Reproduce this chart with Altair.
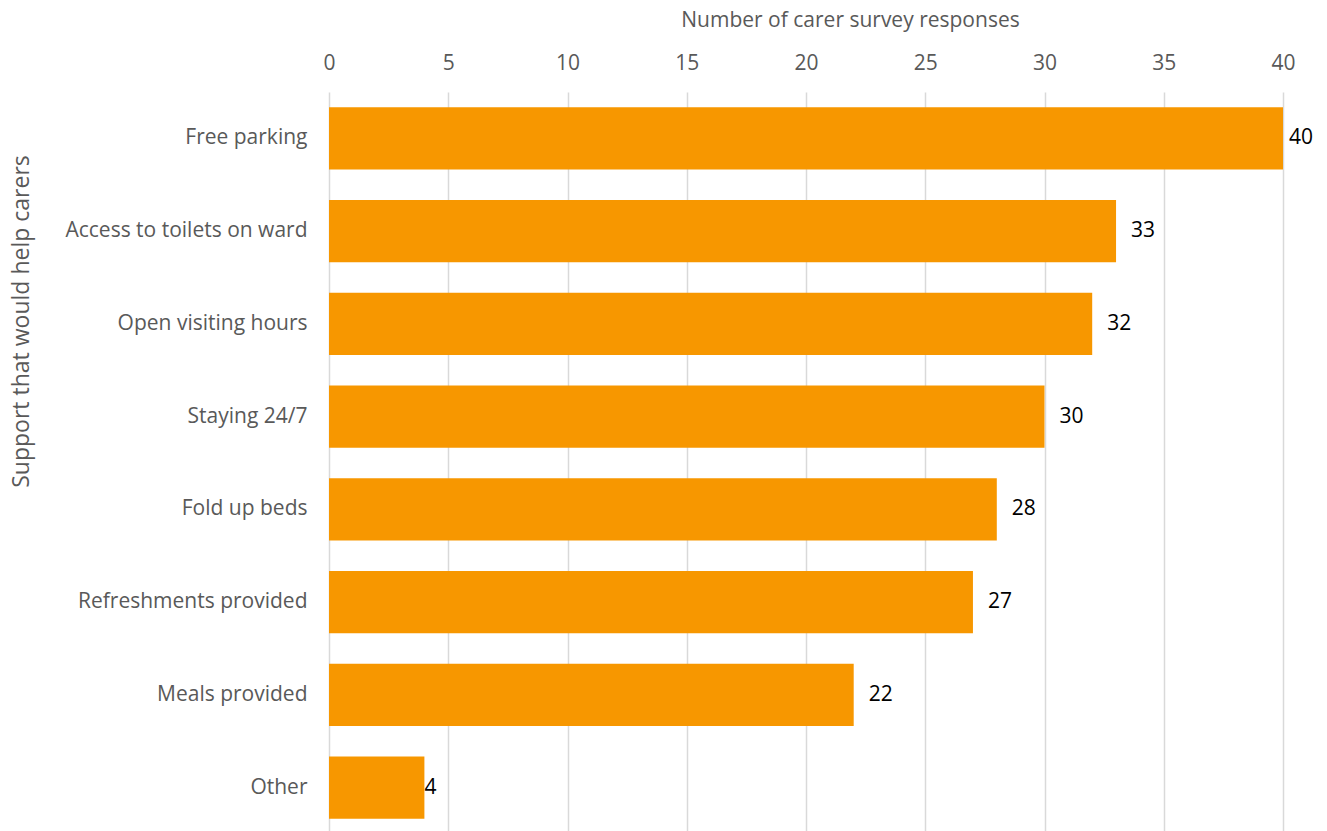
import altair as alt
import pandas as pd

categories = ["Free parking", "Access to toilets on ward", "Open visiting hours",
              "Staying 24/7", "Fold up beds ", "Refreshments provided",
              "Meals provided", "Other"]
values = [40, 33, 32, 30, 28, 27, 22, 4]

df = pd.DataFrame({"support": categories, "count": values})

FONT = "Open Sans"
GREY = "#595959"

y_enc = alt.Y("support:N", sort=categories,
              scale=alt.Scale(paddingInner=0.33, paddingOuter=0.165),
              axis=alt.Axis(title="Support that would help carers", domain=False, ticks=False,
                            labelPadding=22, labelFontSize=21, labelColor=GREY, labelFont=FONT,
                            titleFontSize=23, titleFont=FONT, titleColor=GREY, titleFontWeight="normal",
                            titleX=-308, titleY=229, titleAngle=-90, titleBaseline="middle",
                            titleAlign="center", labelLimit=400))

x_enc = alt.X("count:Q", scale=alt.Scale(domain=[0, 40], nice=False),
              axis=alt.Axis(orient="top", title="Number of carer survey responses",
                            values=list(range(0, 45, 5)), domain=False, ticks=False,
                            grid=True, gridColor="#d9d9d9", gridWidth=1.5, labelFlush=False,
                            labelPadding=19, labelFontSize=21, labelColor=GREY, labelFont=FONT,
                            titleFontSize=21, titleFont=FONT, titleColor=GREY, titleFontWeight="normal",
                            titleX=521, titleY=-72, titleBaseline="middle", titleAlign="center"))

bars = alt.Chart(df).mark_bar(color="#F79700").encode(x=x_enc, y=y_enc)

def labels(cond, dx):
    return alt.Chart(df).transform_filter(cond).mark_text(
        align="left", baseline="middle", dx=dx, fontSize=21, font=FONT, color="#000000"
    ).encode(x="count:Q", y=alt.Y("support:N", sort=categories), text="count:Q")

chart = alt.layer(
    bars,
    labels("datum.count > 4 && datum.count < 40", 15),
    labels("datum.count == 40", 6),
    labels("datum.count == 4", 0),
).properties(
    width=954, height=742,
    autosize=alt.AutoSizeParams(type="none"),
    padding={"left": 321, "top": 84, "right": 30, "bottom": 0},
).configure_view(stroke=None)

chart.save("out.html", embed_options={"renderer": "svg", "actions": False})
